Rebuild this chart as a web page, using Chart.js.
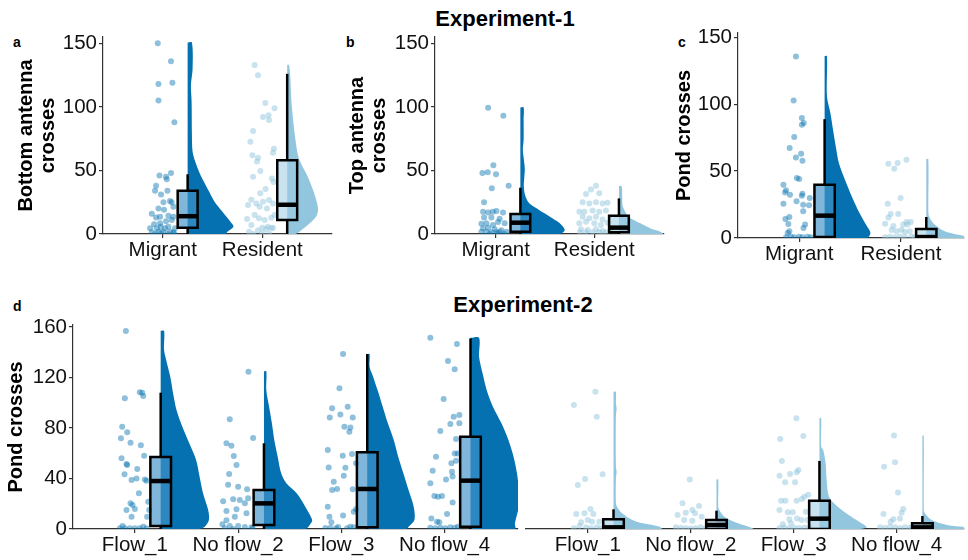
<!DOCTYPE html>
<html lang="en">
<head>
<meta charset="UTF-8">
<title>Raincloud plots</title>
<script src="https://cdn.jsdelivr.net/npm/chart.js"></script>
<style>
  body { margin: 0; width: 968px; height: 560px; position: relative; overflow: hidden; background: #fff;
         font-family: "Liberation Sans", Arial, sans-serif; }
  canvas { position: absolute; }
  .head { position: absolute; font-weight: bold; font-size: 22px; line-height: 22px; transform: translateX(-50%); white-space: nowrap; }
  .tag { position: absolute; font-weight: bold; font-size: 14px; line-height: 14px; }
</style>
</head>
<body>
<div class="head" style="left:505px; top:8px">Experiment-1</div>
<div class="head" style="left:523px; top:294px">Experiment-2</div>
<div class="tag" style="left:13px; top:35px">a</div>
<div class="tag" style="left:346px; top:35px">b</div>
<div class="tag" style="left:678px; top:35px">c</div>
<div class="tag" style="left:13px; top:299px">d</div>

<canvas id="panelA" width="336" height="264" style="left:0; top:16px"></canvas>
<canvas id="panelB" width="332" height="264" style="left:336px; top:16px"></canvas>
<canvas id="panelC" width="300" height="268" style="left:668px; top:12px"></canvas>
<canvas id="panelD1" width="522" height="256" style="left:0; top:304px"></canvas>
<canvas id="panelD2" width="446" height="256" style="left:522px; top:304px"></canvas>

<script>
// ---------- data ----------
const exp1Groups = ['Migrant', 'Resident'];
const exp2Groups = ['Flow_1', 'No flow_2', 'Flow_3', 'No flow_4'];
const exp1Ticks = [0, 50, 100, 150];
const exp2Ticks = [0, 40, 80, 120, 160];

// box stats: [lower whisker, Q1, median, Q3, upper whisker]
const bottomBoxes = [[0, 5, 14, 34, 47], [0, 11, 23, 58, 126]];
const topBoxes = [[0, 1.8, 8.9, 15.7, 36.4], [0, 1.3, 5, 14.4, 28]];
const pond1Boxes = [[0, 0.7, 16.7, 39.8, 88.8], [0, 0, 0.7, 6.7, 15.7]];
const pond2FlowBoxes = [[0, 2.4, 38, 57, 108], [0, 3.2, 20.3, 30.9, 67.9], [0, 1.3, 31.7, 60.7, 138.6], [0, 1.8, 38.3, 73.1, 151]];
const pond2StillBoxes = [[0, 0, 1.3, 7.7, 15.6], [0, 0, 3.2, 7.1, 14.5], [0, 0, 8.2, 22.4, 53.9], [0, 0, 1.3, 4.5, 10.3]];

// half-violin outlines: [value, relative density]
const bottomViolins = [
  [[0, 38], [1.8, 40], [5.8, 46], [9.7, 43], [17.5, 35], [25.4, 27], [33.2, 21.7], [46.3, 13], [56.8, 7.7], [64.7, 5], [77.8, 4.3], [104, 4], [117, 3.3], [130, 5], [150.6, 4.3]],
  [[0, 8.3], [4.5, 16.7], [13.6, 29], [20, 31], [33, 26.7], [46.3, 20], [59.4, 11.7], [77.8, 7.7], [104, 4.3], [125, 3], [133, 1.7]]
];
const topViolins = [
  [[0, 40], [3.1, 45], [8.4, 40], [13.6, 30], [18.9, 19], [24.1, 9], [30, 5], [37.2, 3.5], [45, 4], [50.3, 4.5], [55.6, 4], [66, 2.5], [73.9, 3.3], [90, 3.3], [99.6, 3.3]],
  [[0, 45], [1.8, 42], [4.5, 31.7], [8.4, 21.7], [13.6, 10], [21.5, 4], [29.4, 3.3], [37.8, 2.7]]
];
const pond1Violins = [
  [[0, 41.7], [3.7, 45], [8.7, 41.7], [18.7, 34.3], [31.1, 26.7], [43.5, 20], [56, 14], [68.4, 11], [80.8, 8.3], [93.3, 5.7], [105.7, 2.3], [136, 2.3]],
  [[0, 45], [1.7, 36], [3.7, 24], [6.2, 15], [11.2, 6.7], [16.2, 2.7], [21, 2], [59, 2]]
];
const pond2FlowViolins = [
  [[0, 37], [1.8, 42.7], [7.1, 46.7], [15, 46], [28.3, 41], [41.4, 37.7], [54.7, 34.3], [67.9, 27.7], [81, 21], [94.3, 15.3], [107.5, 12], [120.6, 9.3], [133.9, 5.3], [141.8, 3.3], [157, 3.3]],
  [[0, 40], [3.2, 44.3], [7.1, 46.7], [17.7, 40], [28.3, 31.7], [36.2, 21.7], [44.1, 16.7], [57.3, 13.3], [70.5, 10], [83.7, 7.7], [96.9, 5], [110, 2.3], [125, 2.3]],
  [[0, 38], [1.8, 40], [7.1, 45.7], [17.7, 45], [30.9, 40], [44.1, 35], [57.3, 30], [70.5, 25.7], [83.7, 20], [96.9, 15], [110.1, 10], [120.7, 5.7], [128.6, 2.3], [138.6, 2.3]],
  [[0, 43], [4.5, 43], [17.7, 46.7], [30.9, 46.7], [44.1, 45], [57.3, 41.7], [70.5, 36.7], [83.7, 30], [96.9, 21.7], [110, 15.7], [123.3, 11.7], [136.5, 8.3], [151.5, 8.3]]
];
const pond2StillViolins = [
  [[0, 46.7], [1.8, 45], [4.5, 28.3], [7.1, 18.3], [12.4, 8.3], [17.7, 3.3], [20.3, 2.3], [40, 2.3], [45, 3], [50, 2.3], [90, 2.3], [95, 3], [100, 2.3], [108.8, 2.3]],
  [[0, 36], [1.8, 31], [4.5, 21], [9.8, 7.7], [15, 2.7], [17.7, 1.7], [39.3, 1.7]],
  [[0, 40], [1.3, 46], [4.5, 41], [9.8, 31], [17.7, 17.7], [25.6, 9.3], [38.8, 7], [52, 6], [62.6, 3.7], [65.2, 1.7], [87.7, 1.7]],
  [[0, 45], [1.3, 42], [3.2, 24], [7.1, 9], [12.4, 2.3], [15, 1.3], [74, 1.3]]
];

// raw points: [jitter offset from category, value]
const bottomPoints = [
  [[-0.05, 150], [0.083, 136], [-0.043, 118], [0.097, 119], [-0.043, 105], [0.117, 88], [-0.033, 46], [0.083, 48], [0.04, 43], [0.033, 45],
   [-0.067, 38], [-0.077, 34], [-0.017, 31], [0.047, 34], [0.007, 25], [0.073, 26], [0.09, 25], [-0.043, 20], [0.013, 19], [0.107, 21.5],
   [-0.11, 16], [-0.067, 13], [-0.027, 13.6], [0.057, 14.4], [0.107, 13.6], [-0.087, 7.6], [-0.027, 8.4], [0.033, 10], [0.09, 11],
   [-0.127, 4.5], [-0.06, 4.5], [-0.02, 5.8], [0.023, 4.5], [0.057, 5.8], [0.123, 4.5], [-0.11, 1.3], [-0.043, 1.8], [0.007, 1.8],
   [0.073, 1.8], [0.107, 1.3], [-0.077, 0], [-0.017, 0.5], [0.05, 0], [0.113, 0.5]],
  [[-0.077, 133], [-0.043, 125], [0.03, 103], [0.123, 99], [0.007, 92], [0.063, 93.5], [0.067, 89.6], [-0.093, 81], [-0.12, 72.5], [0.117, 67],
   [0.107, 64], [-0.1, 62], [-0.053, 57], [-0.043, 60], [-0.02, 49.5], [-0.093, 45], [0.097, 43.7], [0.113, 41], [0.033, 35.4], [-0.02, 32],
   [-0.11, 27], [-0.06, 24], [0.007, 25.4], [0.067, 26.7], [0.107, 24], [-0.143, 22.8], [-0.027, 21.5], [0.047, 20], [-0.077, 15], [0.123, 15],
   [-0.033, 12.3], [0.023, 11], [-0.153, 11.8], [0.09, 12.8], [-0.11, 7], [0, 5], [0.057, 5.8], [0.107, 5], [-0.133, 1.8], [-0.043, 3],
   [0.04, 4], [0.09, 4.5], [-0.09, 0], [0, 0.5], [0.07, 0]]
];
const topPoints = [
  [[-0.077, 99.4], [0.077, 93], [-0.135, 48], [-0.081, 48.5], [-0.024, 54], [0.003, 47], [-0.04, 36], [-0.118, 25], [0.131, 38], [-0.128, 17.6],
   [-0.077, 17], [-0.03, 17.5], [0.007, 18], [0.074, 17], [-0.118, 13], [-0.044, 13], [0.04, 12], [-0.145, 8], [-0.094, 8.5], [-0.027, 7],
   [0.024, 9.5], [0.091, 8.5], [-0.128, 4.5], [-0.077, 5], [-0.01, 3.7], [0.057, 3], [0.108, 1.8], [-0.145, 1.8], [-0.094, 1.5], [-0.044, 1.3],
   [0.007, 1.3], [0.04, 1.5], [-0.06, 0], [0.02, 0], [0.09, 0]],
  [[0.017, 38], [-0.034, 35], [-0.084, 31.5], [0.05, 32], [-0.118, 25], [-0.05, 24], [0.017, 25], [0.084, 24], [0.135, 24.5], [-0.152, 17.5],
   [-0.101, 17.5], [-0.017, 18.5], [0.05, 17.5], [0.118, 18.5], [-0.118, 13.6], [-0.05, 12.3], [0.017, 13.6], [0.084, 11.5], [-0.152, 8.4],
   [-0.084, 9.7], [0, 8.4], [0.067, 7], [0.135, 8.9], [-0.135, 3.7], [-0.067, 3.1], [0.017, 3.7], [0.084, 2.4], [0.168, 3.1], [-0.145, 1.3],
   [-0.084, 1.3], [-0.017, 1.3], [0.05, 1.5], [0.118, 1.3]]
];
const pond1Points = [
  [[-0.032, 135.6], [-0.055, 102.7], [0.026, 89.6], [0.045, 86], [0.026, 84.6], [-0.049, 75.4], [-0.094, 67.2], [0.019, 63], [-0.032, 60.2],
   [0.032, 57.7], [-0.023, 44.8], [0, 44], [-0.155, 39.8], [-0.129, 35.6], [-0.139, 34], [-0.091, 32.3], [0.032, 33], [0.026, 31.6],
   [-0.026, 27.4], [0.104, 29.9], [-0.155, 25.6], [0.039, 24.9], [0.097, 24.4], [0.039, 19.9], [-0.097, 15.7], [-0.136, 14.2], [-0.107, 10.4],
   [0.058, 10], [0.042, 7.5], [-0.097, 5], [-0.113, 3.7], [-0.129, 0.5], [-0.081, 1], [-0.049, 0.5], [0, 1], [0.032, 0.5], [0.081, 1], [0.113, 0.5]],
  [[-0.032, 56], [-0.123, 55.5], [-0.065, 51.7], [0.055, 58.5], [-0.129, 25.6], [-0.003, 29.9], [-0.1, 17.9], [-0.026, 17.9], [-0.123, 15.4],
   [-0.155, 10.7], [-0.074, 9], [0.023, 10], [0.055, 12], [0.097, 12], [0.065, 10], [-0.091, 6], [-0.042, 5], [0.006, 6.2], [0.039, 4.5],
   [0.087, 5], [-0.155, 0.5], [-0.107, 1], [-0.058, 0.5], [-0.01, 1], [0.039, 0.5], [0.104, 1], [0.136, 0.5]]
];
const pond2FlowPoints = [
  [[-0.087, 156.8], [0.048, 108.3], [0.071, 108], [0.081, 105.3], [-0.097, 103.5], [-0.123, 81], [-0.074, 76.6], [-0.135, 71.8], [-0.042, 68.4],
   [0.058, 66.3], [-0.129, 56], [-0.081, 51.5], [-0.074, 50.7], [0.09, 58.1], [-0.1, 43.3], [0.023, 47.5], [0.016, 40.1], [-0.032, 38.8],
   [0.097, 39.3], [0.113, 38.3], [0.039, 28.3], [0.129, 21.6], [-0.042, 20.3], [-0.023, 19], [-0.081, 15], [0, 15.8], [0.139, 15],
   [-0.032, 9.8], [0.119, 9.8], [-0.145, 0.5], [-0.119, 2.4], [-0.097, 0.5], [-0.048, 0.5], [0, 0.5], [0.048, 0.5], [0.081, 1.8], [0.113, 0.5]],
  [[0.1, 124.6], [-0.081, 87], [-0.113, 68], [-0.065, 66], [-0.042, 57.8], [-0.016, 50.7], [-0.087, 43.6], [0.145, 72], [-0.097, 35], [0, 33.5],
   [0.087, 31.4], [-0.145, 22], [-0.048, 23.5], [0.016, 23], [0.097, 24.3], [0.065, 20.3], [-0.113, 14.3], [-0.016, 15.6], [0.081, 12.4],
   [-0.032, 9.8], [-0.113, 7], [-0.152, 3.7], [-0.081, 2.4], [0, 2.4], [0.065, 1.5], [0.129, 1.3], [0.14, 0.5], [-0.129, 0.5], [-0.048, 0]],
  [[0.016, 138.6], [-0.019, 111.4], [-0.09, 95.6], [0.061, 96.9], [-0.113, 88.4], [-0.01, 90.8], [0.11, 88.4], [0.029, 81], [0.087, 80.5],
   [0.077, 77.1], [-0.132, 62.6], [0.013, 58], [0.103, 59.4], [-0.123, 48.8], [0.039, 48.6], [0.142, 52], [0.023, 42.2], [-0.074, 37.5],
   [-0.09, 30.9], [-0.042, 31.7], [0.11, 31.4], [-0.132, 17.7], [0.142, 15.6], [0.119, 13.7], [-0.116, 9.8], [0.016, 10.6], [-0.097, 5.3],
   [-0.155, 0.8], [-0.106, 1], [-0.052, 0.5], [-0.032, 1.6], [0.055, 0.5], [0.087, 1.8], [0.119, 1.3]],
  [[-0.139, 151.5], [0.119, 146.5], [0.032, 133], [0.097, 126.5], [-0.01, 103], [0.087, 89], [0.142, 90.3], [0.055, 83.2], [-0.042, 77.6],
   [0.142, 83.7], [0.11, 71.3], [0.097, 59.9], [-0.084, 57.3], [0.126, 59.9], [0.065, 52], [0.11, 54.1], [-0.116, 46.2], [0.071, 45.4],
   [-0.139, 36.2], [0.013, 39.3], [0.077, 41.5], [-0.1, 26.1], [-0.065, 25.6], [-0.026, 26.1], [0.077, 20.9], [0.023, 11.9], [-0.129, 8.4],
   [-0.074, 5.8], [-0.052, 5.3], [-0.139, 1], [-0.09, 0.5], [-0.042, 1], [0.006, 0.5], [0.055, 1.3], [0.097, 1], [0.129, 1.8]]
];
const pond2StillPoints = [
  [[0.074, 108.8], [-0.135, 98.2], [0.087, 89], [-0.096, 34.9], [-0.026, 39.6], [0.144, 43.3], [0.026, 15.8], [-0.112, 11.9], [-0.032, 12.4],
   [0.054, 11.9], [0, 7.1], [-0.064, 5.3], [0.042, 5.8], [0.112, 5.8], [-0.135, 0.5], [-0.08, 2.4], [-0.016, 1.3], [0.032, 0.5], [0.087, 1.3],
   [0.128, 0.5], [0.16, 1.8]],
  [[-0.01, 39.3], [-0.08, 20.3], [-0.128, 11.1], [-0.048, 12.9], [0.016, 15], [0.08, 18.2], [0.042, 12.4], [0.106, 9.8], [-0.064, 7.1],
   [0.016, 6.6], [-0.144, 1.3], [-0.096, 0.8], [-0.048, 0.5], [0, 0.3], [0.048, 0.5], [0.096, 1.3], [0.144, 0.5]],
  [[0.026, 87.7], [-0.131, 71.3], [0.093, 73.7], [-0.115, 53.9], [-0.138, 42.2], [-0.035, 43.6], [0.029, 44.9], [0.045, 46.7], [-0.083, 37],
   [0.013, 37], [-0.122, 22.4], [-0.08, 22.4], [0.029, 22.4], [0.08, 23.8], [0.141, 27.2], [0.103, 25.6], [-0.138, 15], [-0.058, 13.2],
   [-0.01, 13.2], [0.119, 13.7], [-0.042, 7.7], [0.032, 8.4], [0.077, 7.1], [0.135, 7.1], [-0.138, 0.5], [-0.09, 1], [-0.042, 0.3],
   [0.006, 1], [0.054, 0.8], [0.103, 1], [0.151, 1.8], [-0.026, 4.5], [-0.106, 3.7]],
  [[-0.026, 74], [-0.122, 49.4], [-0.016, 52.8], [0.013, 29], [-0.128, 11.9], [0.064, 15.8], [0.048, 12.9], [-0.032, 7.7], [0.032, 8.4],
   [-0.058, 5.8], [-0.16, 1.3], [-0.112, 0.8], [-0.064, 1.8], [-0.016, 1.3], [0.032, 0.5], [0.08, 1.3], [0.128, 0.8], [0.15, 1.3]]
];

// ---------- drawing ----------
Chart.defaults.font.family = '"Liberation Sans", Arial, sans-serif';
Chart.defaults.color = '#111';

const BOX_SHIFT = 0.25;
const BOX_HALF = 0.1;
const DENSITY_SCALE = 0.01;

const tones = {
  dark:  { violin: '#0571b0', box: 'rgba(65,146,200,0.67)', point: 'rgba(5,113,176,0.45)' },
  light: { violin: '#92c5de', box: 'rgba(160,205,228,0.58)', point: 'rgba(146,197,222,0.5)' }
};

function groupDatasets(pos, box, violin, pts, tone) {
  const c = tones[tone];
  const bx = pos + BOX_SHIFT;
  const l = bx - BOX_HALF, r = bx + BOX_HALF;
  const outline = [{x: bx, y: violin[0][0]}]
    .concat(violin.map(v => ({x: bx + v[1] * DENSITY_SCALE, y: v[0]})))
    .concat([{x: bx, y: violin[violin.length - 1][0]}]);
  const line = {type: 'line', pointRadius: 0, fill: false, borderColor: '#000', tension: 0};
  return [
    {type: 'line', data: outline, fill: 'shape', backgroundColor: c.violin, borderColor: c.violin,
     borderWidth: 0, pointRadius: 0, tension: 0.3, order: 5},
    {type: 'scatter', data: pts.map(p => ({x: pos + p[0], y: p[1]})), backgroundColor: c.point,
     borderWidth: 0, pointRadius: 3, order: 4},
    Object.assign({}, line, {data: [{x: l, y: box[1]}, {x: r, y: box[1]}, {x: r, y: box[3]}, {x: l, y: box[3]}, {x: l, y: box[1]}],
     fill: 'shape', backgroundColor: c.box, borderWidth: 2.5, borderCapStyle: 'square', borderJoinStyle: 'miter', order: 3}),
    Object.assign({}, line, {data: [{x: bx, y: box[0]}, {x: bx, y: box[1]}], borderWidth: 2.5, order: 2}),
    Object.assign({}, line, {data: [{x: bx, y: box[3]}, {x: bx, y: box[4]}], borderWidth: 2.5, order: 2}),
    Object.assign({}, line, {data: [{x: l, y: box[2]}, {x: r, y: box[2]}], borderWidth: 4.5, order: 1})
  ];
}

function drawPanel(p) {
  const datasets = [];
  p.groups.forEach((g, i) => {
    datasets.push(...groupDatasets(i + 1, p.boxes[i], p.violins[i], p.points[i], p.tones[i]));
  });
  new Chart(document.getElementById(p.id), {
    type: 'scatter',
    data: { datasets },
    options: {
      responsive: false,
      animation: false,
      events: [],
      layout: { padding: { top: p.padTop, right: p.padRight, left: p.padLeft || 0, bottom: 0 } },
      plugins: { legend: { display: false }, tooltip: { enabled: false } },
      scales: {
        x: {
          type: 'linear', min: p.xRange[0], max: p.xRange[1],
          afterBuildTicks: s => { s.ticks = p.groups.map((g, i) => ({ value: i + 1 })); },
          afterFit: s => { s.height = p.xHeight; },
          ticks: { callback: (v, i) => p.groups[i], autoSkip: false, maxRotation: 0, padding: 0,
                   font: { size: 20.5 }, color: '#111' },
          grid: { drawOnChartArea: false, tickLength: 4, color: '#333', lineWidth: 1.2 },
          border: { display: true, color: '#333', width: 1.2 }
        },
        y: {
          display: p.yAxis,
          type: 'linear', min: 0, max: p.yMax,
          afterBuildTicks: s => { s.ticks = p.yTicks.map(v => ({ value: v })); },
          afterFit: s => { s.width = p.yWidth; },
          ticks: { padding: 2, font: { size: 20.5 }, color: '#111' },
          grid: { drawOnChartArea: false, tickLength: 4, color: '#333', lineWidth: 1.2 },
          border: { display: true, color: '#333', width: 1.2 },
          title: { display: true, text: p.yTitle, color: '#000', font: { size: 20, weight: 'bold', lineHeight: 1.1 },
                   padding: { top: p.titlePad, bottom: 0 } }
        }
      }
    }
  });
}

drawPanel({ id: 'panelA', groups: exp1Groups, boxes: bottomBoxes, violins: bottomViolins, points: bottomPoints,
  tones: ['dark', 'light'], yTicks: exp1Ticks, yMax: 155, xRange: [0.4, 2.7], yAxis: true,
  yTitle: ['Bottom antenna', 'crosses'], titlePad: 15, padTop: 21, padRight: 3, yWidth: 103, xHeight: 46 });

drawPanel({ id: 'panelB', groups: exp1Groups, boxes: topBoxes, violins: topViolins, points: topPoints,
  tones: ['dark', 'light'], yTicks: exp1Ticks, yMax: 155, xRange: [0.384, 2.707], yAxis: true,
  yTitle: ['Top antenna', 'crosses'], titlePad: 10, padTop: 21, padRight: 3, yWidth: 99, xHeight: 46 });

drawPanel({ id: 'panelC', groups: exp1Groups, boxes: pond1Boxes, violins: pond1Violins, points: pond1Points,
  tones: ['dark', 'light'], yTicks: exp1Ticks, yMax: 153.2, xRange: [0.398, 2.621], yAxis: true,
  yTitle: 'Pond crosses', titlePad: 5, padTop: 21, padRight: 1, yWidth: 70, xHeight: 42 });

drawPanel({ id: 'panelD1', groups: exp2Groups, boxes: pond2FlowBoxes, violins: pond2FlowViolins, points: pond2FlowPoints,
  tones: ['dark', 'dark', 'dark', 'dark'], yTicks: exp2Ticks, yMax: 161.6, xRange: [0.401, 4.71], yAxis: true,
  yTitle: 'Pond crosses', titlePad: 5, padTop: 21, padRight: 3, yWidth: 73, xHeight: 31 });

drawPanel({ id: 'panelD2', groups: exp2Groups, boxes: pond2StillBoxes, violins: pond2StillViolins, points: pond2StillPoints,
  tones: ['light', 'light', 'light', 'light'], yTicks: exp2Ticks, yMax: 161.6, xRange: [0.4, 4.654], yAxis: false,
  yTitle: '', titlePad: 0, padTop: 21, padRight: 0, padLeft: 4, yWidth: 0, xHeight: 31 });
</script>
</body>
</html>
